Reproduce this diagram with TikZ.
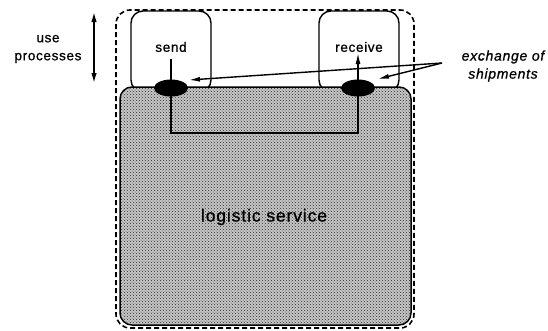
\documentclass[tikz,border=0pt]{standalone}
\usepackage{fontspec}
\setmainfont{Liberation Sans}
\newfontfamily\spacedfont[LetterSpace=5,FakeBold=0.8]{Liberation Sans}
\usetikzlibrary{patterns,arrows.meta,shapes.geometric}
\begin{document}
\begin{tikzpicture}[x=1pt,y=-1pt,
  procbox/.style={draw,line width=1.4pt,rounded corners=12pt,fill=white},
  port/.style={ellipse,fill=black,minimum width=34pt,minimum height=17pt,inner sep=0pt},
  lbl/.style={font=\spacedfont\fontsize{13.5}{18}\selectfont,align=center},
  pointer/.style={line width=1.4pt,-{Latex[length=11pt,width=5pt]}}]
\useasboundingbox (0,0) rectangle (548,330);
% enclosing system boundary
\draw[dash pattern=on 5pt off 3pt,line width=1.6pt,rounded corners=14pt] (116,10) rectangle (414,328);
% process boxes
\draw[procbox] (131,11) rectangle (211,92);
\draw[procbox] (319,11) rectangle (399,92);
% logistic service area
\fill[black!22,rounded corners=12pt] (120,87) rectangle (411,325);
\fill[pattern=crosshatch dots,pattern color=black!85,rounded corners=12pt] (121,88) rectangle (410,324);
\draw[line width=1.5pt,rounded corners=12pt] (120,87) rectangle (411,325);
\node[lbl,font=\spacedfont\fontsize{17.5}{20}\selectfont,inner sep=1pt] (ls) at (264,217) {logistic service};
% labels in process boxes
\node[lbl] (send) at (171,47) {send};
\node[lbl] (recv) at (359,47) {receive};
% ports
\node[port] (ps) at (171,88) {};
\node[port] (pr) at (358,88) {};
\coordinate (c1) at (171,133);
\coordinate (c2) at (358,133);
\draw[line width=1.5pt] (ps.center) -- (c1) -- (c2) -- (pr.center);
\draw[line width=1.5pt] (ps.center) -- (171,59);
\draw[pointer] (pr.center) -- (358,53);
% left annotation
\node[lbl] (use) at (48,49) {use\\processes};
\coordinate (ua) at (94,12);
\coordinate (ub) at (94,83);
\draw[line width=1.5pt,{Latex[length=10pt,width=5.5pt]}-{Latex[length=10pt,width=5.5pt]}] (ua) -- (ub);
% right annotation
\node[lbl,font=\spacedfont\fontsize{14}{18}\selectfont\itshape] (ex) at (503,66) {exchange of\\shipments};
\coordinate (ea) at (442,63);
\coordinate (tipS) at (189,80);
\coordinate (tipR) at (378,79);
\draw[pointer] (ea) -- (tipS);
\draw[pointer] (ea) -- (tipR);
\end{tikzpicture}
\end{document}
